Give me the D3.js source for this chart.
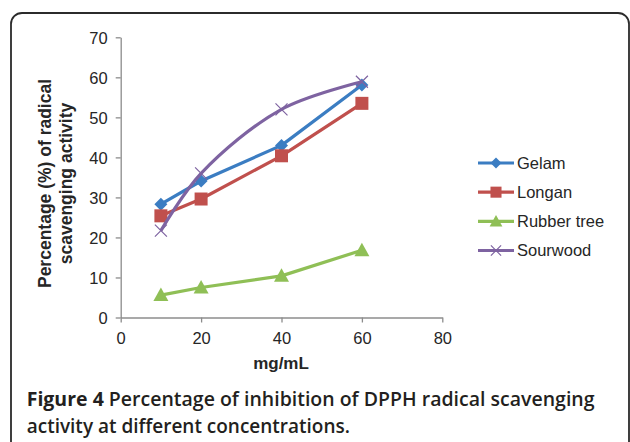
<!DOCTYPE html>
<html><head><meta charset="utf-8">
<script src="https://cdn.jsdelivr.net/npm/d3@7"></script>
<style>html,body{margin:0;padding:0;background:#fff;}svg{display:block;}</style>
</head><body>
<svg id="chart" width="630" height="442"></svg>
<script>
const concentrations = [10, 20, 40, 60];
const seriesNames = ["Gelam", "Longan", "Rubber tree", "Sourwood"];
const gelam = [28.3, 34.1, 43.0, 58.1];
const longan = [25.4, 29.6, 40.4, 53.5];
const rubberTree = [5.6, 7.5, 10.4, 16.8];
const sourwood = [21.7, 36.0, 52.0, 58.9];
const xTicks = [0, 20, 40, 60, 80];
const yTicks = [0, 10, 20, 30, 40, 50, 60, 70];
const yTitle = ["Percentage (%) of radical", "scavenging activity"];
const xTitle = "mg/mL";
const captionBold = "Figure 4";
const captionLine1 = " Percentage of inhibition of DPPH radical scavenging";
const captionLine2 = "activity at different concentrations.";

const series = [
  {name: seriesNames[0], values: gelam, color: "#3b7dc2", marker: "diamond", curve: d3.curveLinear},
  {name: seriesNames[1], values: longan, color: "#c0504d", marker: "square", curve: d3.curveLinear},
  {name: seriesNames[2], values: rubberTree, color: "#8fbf56", marker: "triangle", curve: d3.curveLinear},
  {name: seriesNames[3], values: sourwood, color: "#7e63a1", marker: "cross", curve: d3.curveCatmullRom}
];

const svg = d3.select("#chart");
const font = "'Liberation Sans', Arial, Helvetica, sans-serif";

// frame
svg.append("rect").attr("x", 11).attr("y", 13).attr("width", 618).attr("height", 520)
  .attr("rx", 11).attr("fill", "none").attr("stroke", "#2b2b2b").attr("stroke-width", 1.8);

const x = d3.scaleLinear().domain([0, 80]).range([120.7, 442.3]);
const y = d3.scaleLinear().domain([0, 70]).range([317.5, 37.3]);

const axisColor = "#8c8c8c";
const gx = svg.append("g").attr("transform", `translate(0,${y(0)})`)
  .call(d3.axisBottom(x).tickValues(xTicks).tickSize(5).tickPadding(6).tickSizeOuter(0));
const gy = svg.append("g").attr("transform", `translate(${x(0)},0)`)
  .call(d3.axisLeft(y).tickValues(yTicks).tickSize(5).tickPadding(8).tickSizeOuter(0));
[gx, gy].forEach(g => {
  g.select(".domain").attr("stroke", axisColor).attr("stroke-width", 1.3);
  g.selectAll(".tick line").attr("stroke", axisColor).attr("stroke-width", 1.3);
  g.selectAll(".tick text").attr("fill", "#262626").attr("font-family", font).attr("font-size", 16.5);
});
gx.selectAll(".tick text").attr("dy", "0.95em");
gy.selectAll(".tick text").attr("dy", "0.36em");

// axis titles
svg.append("text").attr("x", 281).attr("y", 369).attr("text-anchor", "middle")
  .attr("font-family", font).attr("font-weight", "bold").attr("font-size", 17).attr("fill", "#262626")
  .text(xTitle);
const yt = svg.append("text").attr("transform", "translate(0,183.5) rotate(-90)")
  .attr("text-anchor", "middle").attr("font-family", font).attr("font-weight", "bold")
  .attr("font-size", 17.5).attr("fill", "#262626");
yt.selectAll("tspan").data(yTitle).join("tspan").attr("x", 0)
  .attr("y", (d, i) => 51 + i * 21).text(d => d);

// lines
const line = (s) => d3.line().x((d, i) => x(concentrations[i])).y(d => y(d)).curve(s.curve);
function drawMarker(g, type, color, cx, cy, scale) {
  scale = scale || 1;
  if (type === "diamond") {
    const r = 6.5 * scale;
    g.append("path").attr("d", `M${cx},${cy - r}L${cx + r},${cy}L${cx},${cy + r}L${cx - r},${cy}Z`).attr("fill", color);
  } else if (type === "square") {
    const r = 6.5 * scale;
    g.append("rect").attr("x", cx - r).attr("y", cy - r).attr("width", 2 * r).attr("height", 2 * r).attr("fill", color);
  } else if (type === "triangle") {
    const r = 7.5 * scale;
    g.append("path").attr("d", `M${cx},${cy - r}L${cx + r},${cy + r * 0.8}L${cx - r},${cy + r * 0.8}Z`).attr("fill", color);
  } else if (type === "cross") {
    const r = 6 * scale;
    g.append("path").attr("d", `M${cx - r},${cy - r}L${cx + r},${cy + r}M${cx - r},${cy + r}L${cx + r},${cy - r}`)
      .attr("stroke", color).attr("stroke-width", 1.2).attr("fill", "none");
  }
}
series.forEach(s => {
  const g = svg.append("g");
  g.append("path").datum(s.values).attr("d", line(s)).attr("fill", "none")
    .attr("stroke", s.color).attr("stroke-width", 3.2).attr("stroke-linejoin", "round");
  s.values.forEach((v, i) => drawMarker(g, s.marker, s.color, x(concentrations[i]), y(v)));
});

// legend
const legendY = d3.scalePoint().domain(seriesNames).range([163, 250.5]);
series.forEach(s => {
  const g = svg.append("g");
  const ly = legendY(s.name);
  g.append("line").attr("x1", 478).attr("x2", 514).attr("y1", ly).attr("y2", ly)
    .attr("stroke", s.color).attr("stroke-width", 3.2);
  drawMarker(g, s.marker, s.color, 496, ly, 0.85);
  g.append("text").attr("x", 517).attr("y", ly).attr("dy", "0.36em")
    .attr("font-family", font).attr("font-size", 16.5).attr("fill", "#262626").text(s.name);
});

// caption
const capFont = "'Open Sans', 'Noto Sans', sans-serif";
function captionLine(parts, baseY, targetW) {
  const t = svg.append("text").attr("x", 0).attr("y", baseY).attr("font-family", capFont)
    .attr("font-size", 19).attr("fill", "#231f20").attr("font-weight", 600);
  parts.forEach(p => t.append("tspan").attr("font-weight", p.bold ? 700 : 600).text(p.text));
  const w = t.node().getComputedTextLength();
  t.attr("transform", `translate(26.7,0) scale(${targetW / w},1)`);
}
captionLine([{text: captionBold, bold: true}, {text: captionLine1}], 406, 568);
captionLine([{text: captionLine2}], 433, 323.5);
</script>
</body></html>
